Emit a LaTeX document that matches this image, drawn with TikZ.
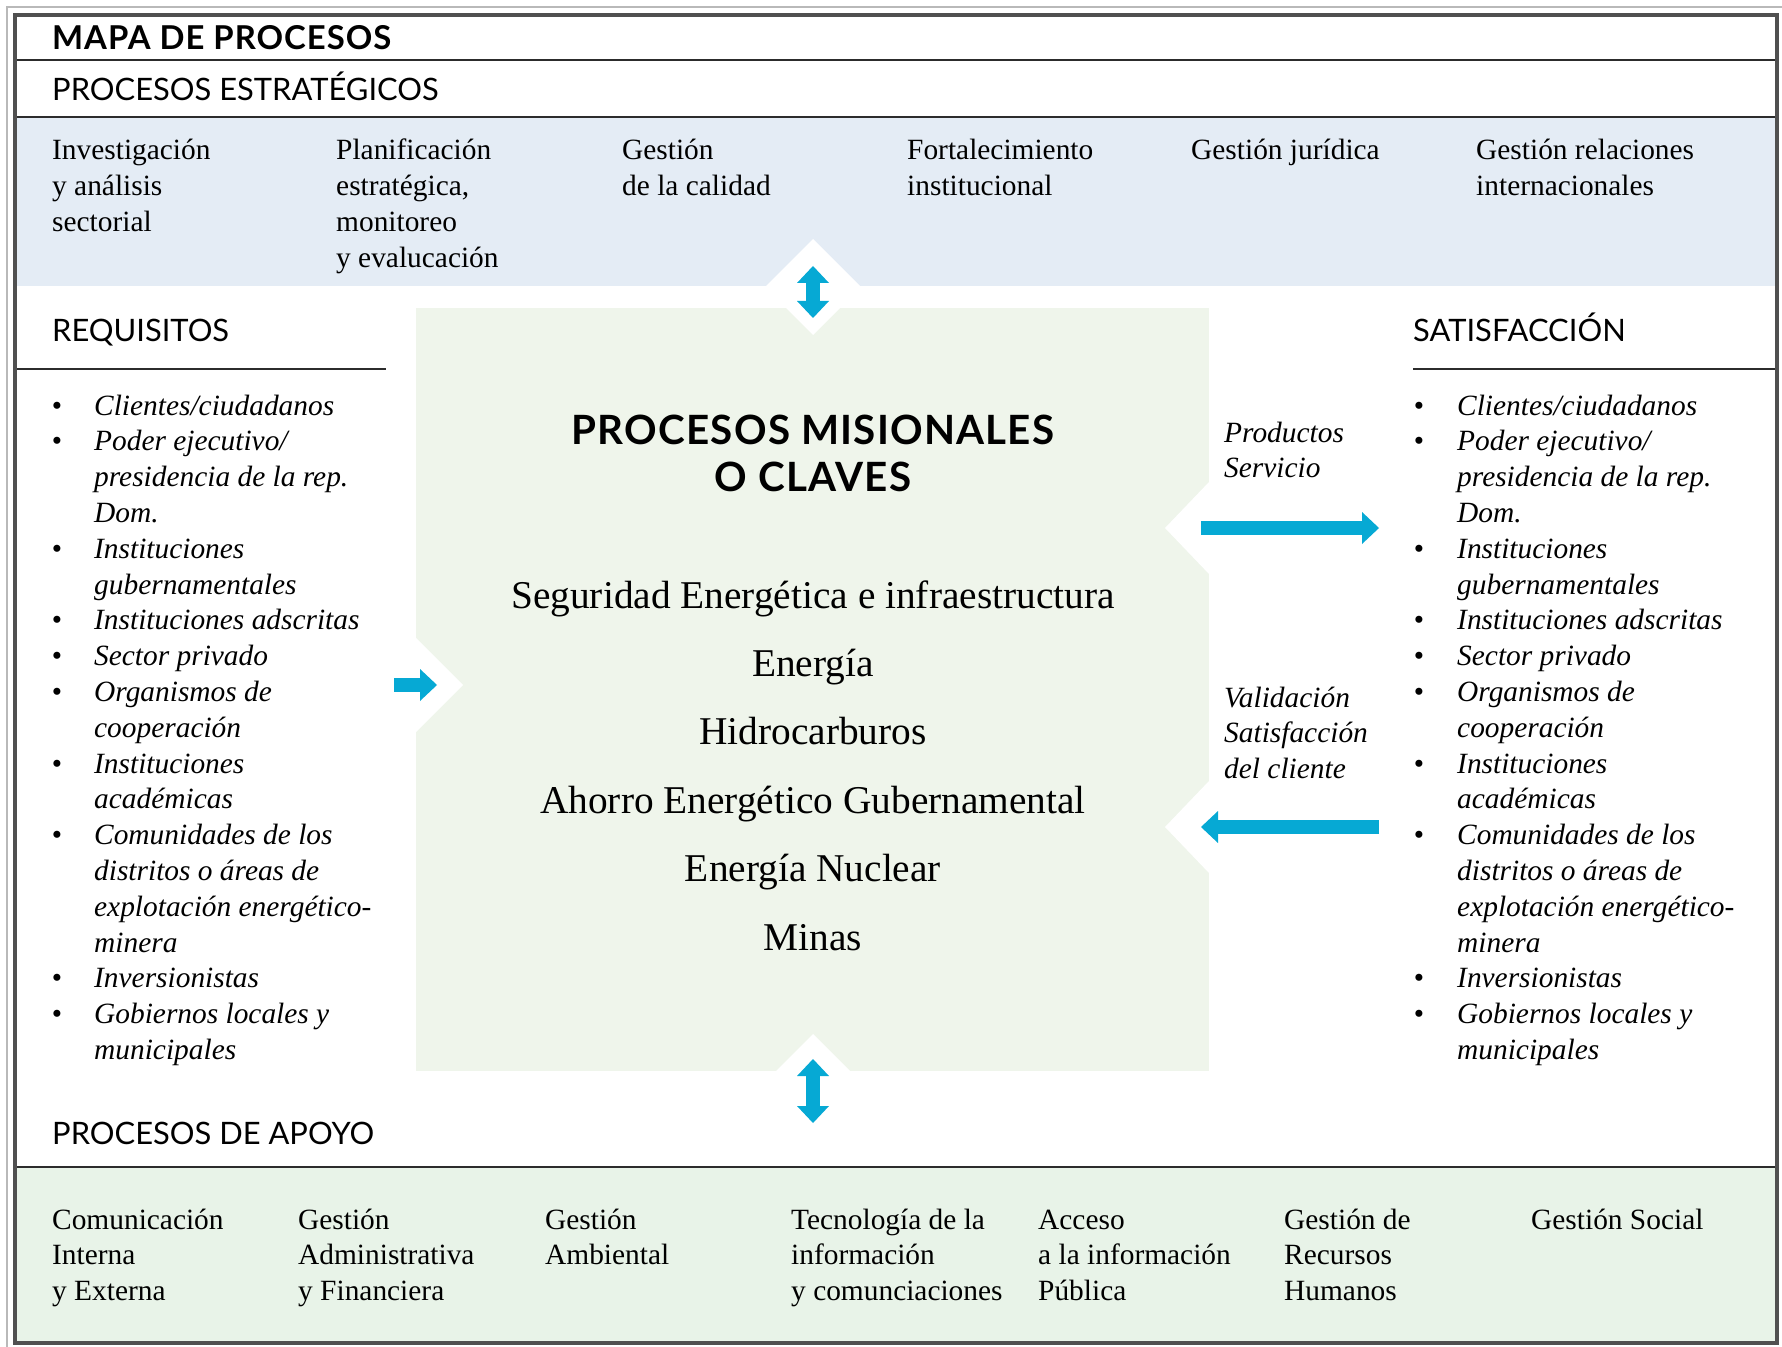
\documentclass[tikz,border=0pt]{standalone}
\usepackage{fontspec}
\setmainfont{Liberation Serif}
\newfontfamily\hdfont{Lato}
\newfontfamily\hdwide[LetterSpace=3]{Lato}
\usetikzlibrary{arrows.meta}
\definecolor{arrowblue}{HTML}{06A9D4}
\definecolor{bandblue}{HTML}{E4ECF5}
\definecolor{boxgreen}{HTML}{EFF5EB}
\definecolor{bandgreen}{HTML}{E8F3E8}
\definecolor{framegray}{HTML}{505050}
\definecolor{rulegray}{HTML}{2C2C2C}
\newcommand\colitem[4]{%
  \foreach \ln [count=\k from 0] in {#4} {\node[body] (#1-\k) at (#2, #3+35.8*\k) {\ln};}}
\begin{document}
\begin{tikzpicture}[x=1bp,y=-1bp,
  body/.style={anchor=base west, inner sep=0pt, font=\fontsize{29.5}{35}\selectfont},
  item/.style={anchor=base west, inner sep=0pt, font=\fontsize{29.5}{35}\selectfont\itshape},
  bul/.style={anchor=base, inner sep=0pt, font=\fontsize{29.5}{35}\selectfont},
  head/.style={anchor=base west, inner sep=0pt, font=\hdfont\fontsize{31}{36}\selectfont},
  title/.style={anchor=base west, inner sep=0pt, font=\hdwide\bfseries\fontsize{33}{38}\selectfont},
  mtitle/.style={anchor=base, inner sep=0pt, font=\hdwide\bfseries\fontsize{40.5}{46}\selectfont},
  big/.style={anchor=base, inner sep=0pt, font=\fontsize{39.5}{47}\selectfont},
  rule/.style={draw=rulegray, line width=2.5bp},
  barrow/.style={draw=arrowblue, line width=14bp, -{Triangle[width=32bp,length=17bp,line width=0pt]}},
  dbarrow/.style={draw=arrowblue, line width=14bp, {Triangle[width=32bp,length=17bp,line width=0pt]}-{Triangle[width=32bp,length=17bp,line width=0pt]}}
]
\useasboundingbox (0,0) rectangle (1782,1347);
\fill[white] (0,0) rectangle (1782,1347);
\draw[gray!55, line width=1.5bp] (7,1347) -- (7,7) -- (1782,7);
% bands
\fill[bandblue] (15,117) rectangle (1777,286);
\fill[boxgreen] (416,308) rectangle (1209,1071);
\fill[bandgreen] (15,1167) rectangle (1777,1343);
% white notches
\fill[white] (813,239) -- (861,287) -- (813,335) -- (765,287) -- cycle;
\fill[white] (813,1034) -- (850,1071) -- (813,1108) -- (776,1071) -- cycle;
\fill[white] (416,638) -- (463,685) -- (416,732) -- cycle;
\fill[white] (1209,482) -- (1165,528) -- (1209,574) -- cycle;
\fill[white] (1209,781) -- (1165,827) -- (1209,873) -- cycle;
% rules
\draw[rule] (15,60) -- (1777,60);
\draw[rule] (15,117) -- (1777,117);
\draw[rule] (15,369) -- (386,369);
\draw[rule] (1413,369) -- (1777,369);
\draw[rule] (15,1167) -- (1777,1167);
% frame
\draw[framegray, line width=4bp] (15,15) rectangle (1777,1343);

% headings
\node[title] (mapa) at (52,50) {MAPA DE PROCESOS};
\node[head] (estr) at (52,101) {PROCESOS ESTRATÉGICOS};
\node[head] (req) at (52,342) {REQUISITOS};
\node[head] (sat) at (1413,342) {SATISFACCIÓN};
\node[head] (apoyo) at (52,1144) {PROCESOS DE APOYO};

% strategic processes
\colitem{s1}{52}{160}{Investigación, y análisis, sectorial}
\colitem{s2}{336}{160}{Planificación, {estratégica,}, monitoreo, y evalucación}
\colitem{s3}{622}{160}{Gestión, de la calidad}
\colitem{s4}{907}{160}{Fortalecimiento, institucional}
\colitem{s5}{1191}{160}{Gestión jurídica}
\colitem{s6}{1476}{160}{Gestión relaciones, internacionales}

% support processes
\colitem{a1}{52}{1229}{Comunicación, Interna, y Externa}
\colitem{a2}{298}{1229}{Gestión, Administrativa, y Financiera}
\colitem{a3}{545}{1229}{Gestión, Ambiental}
\colitem{a4}{791}{1229}{Tecnología de la, información, y comunciaciones}
\colitem{a5}{1038}{1229}{Acceso, a la información, Pública}
\colitem{a6}{1284}{1229}{Gestión de, Recursos, Humanos}
\colitem{a7}{1531}{1229}{Gestión Social}

% lists
\foreach \b/\t [count=\i from 0] in {1/Clientes\slash ciudadanos, 1/Poder ejecutivo\slash, 0/presidencia de la rep., 0/Dom., 1/Instituciones, 0/gubernamentales, 1/Instituciones adscritas, 1/Sector privado, 1/Organismos de, 0/cooperación, 1/Instituciones, 0/académicas, 1/Comunidades de los, 0/distritos o áreas de, 0/explotación energético-, 0/minera, 1/Inversionistas, 1/Gobiernos locales y, 0/municipales}
{
  \node[item] (L\i) at (94, 415+35.8*\i) {\t};
  \node[item] (R\i) at (1457, 415+35.8*\i) {\t};
  \ifnum\b=1
    \node[bul] (LB\i) at (57, 415+35.8*\i) {\textbullet};
    \node[bul] (RB\i) at (1419, 415+35.8*\i) {\textbullet};
  \fi
}

% center
\node[mtitle] (m1) at (813,444) {PROCESOS MISIONALES};
\node[mtitle] (m2) at (813,491) {O CLAVES};
\foreach \t [count=\i from 0] in {Seguridad Energética e infraestructura, Energía, Hidrocarburos, Ahorro Energético Gubernamental, Energía Nuclear, Minas}
  \node[big] (c\i) at (813, 608+68.4*\i) {\t};

% flow labels
\node[item] (p1) at (1224,442) {Productos};
\node[item] (p2) at (1224,477) {Servicio};
\node[item] (v1) at (1224,707) {Validación};
\node[item] (v2) at (1224,742) {Satisfacción};
\node[item] (v3) at (1224,778) {del cliente};

% arrows
\coordinate (t1) at (813,266); \coordinate (t2) at (813,318);
\coordinate (b1) at (813,1059); \coordinate (b2) at (813,1123);
\coordinate (l1) at (394,685); \coordinate (l2) at (437,685);
\coordinate (r1) at (1201,528); \coordinate (r2) at (1379,528);
\coordinate (q1) at (1379,827); \coordinate (q2) at (1201,827);
\draw[dbarrow] (t1) -- (t2);
\draw[dbarrow] (b1) -- (b2);
\draw[barrow] (l1) -- (l2);
\draw[barrow] (r1) -- (r2);
\draw[barrow] (q1) -- (q2);
\end{tikzpicture}
\end{document}
